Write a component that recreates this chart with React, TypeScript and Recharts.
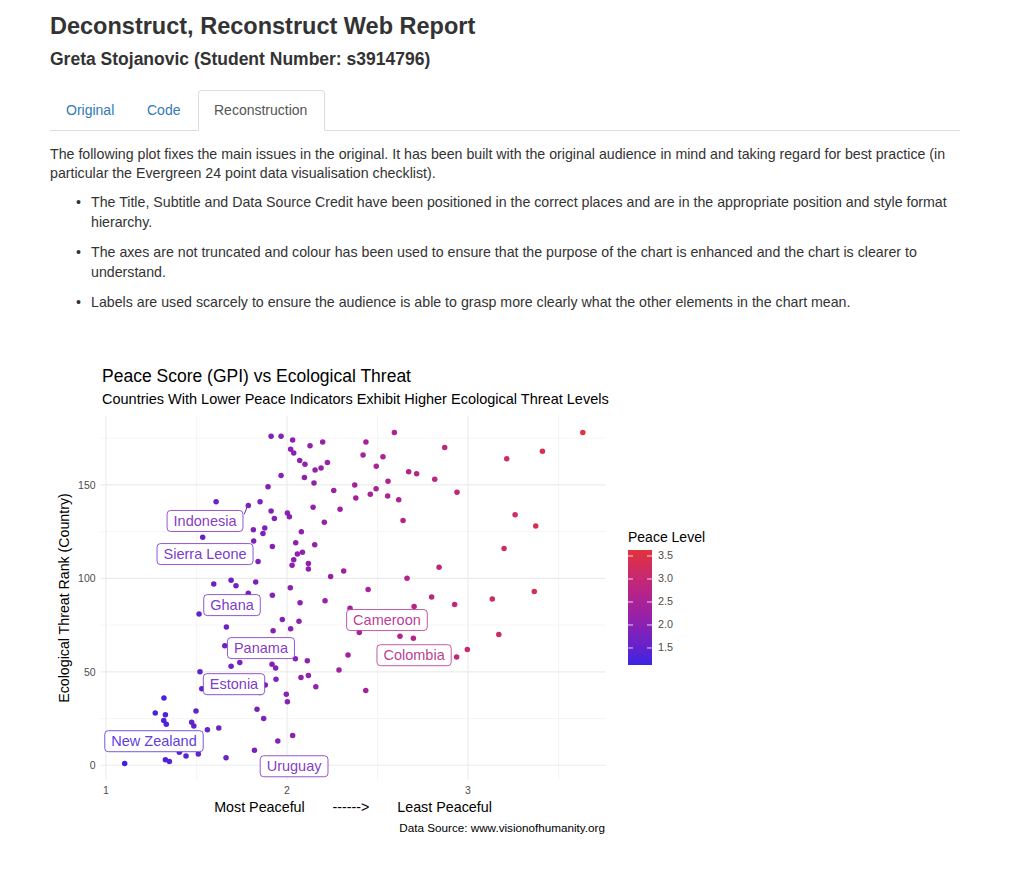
import React from 'react';
import { ScatterChart, Scatter, XAxis, YAxis, ReferenceLine } from 'recharts';

// ---- Data ----
const gpiScores = [
  1.912, 1.608, 1.786, 1.851, 1.912, 1.930, 1.814, 1.877, 1.867, 1.534,
  1.816, 1.919, 1.840, 1.595, 1.691, 1.718, 1.827, 1.786, 1.919, 1.967,
  2.031, 2.020, 2.037, 2.127, 2.197, 2.070, 2.099, 2.155, 2.188, 2.223,
  1.967, 2.096, 2.149, 1.895, 2.258, 2.374, 2.380, 2.460, 2.492, 2.436,
  2.420, 2.530, 2.493, 2.593, 2.672, 2.716, 2.558, 2.556, 2.617, 2.816,
  2.641, 2.002, 2.013, 2.144, 2.293, 2.206, 2.079, 2.048, 2.153, 2.057,
  2.085, 2.037, 2.028, 2.118, 2.118, 2.241, 2.313, 2.663, 2.840, 2.018,
  2.448, 2.799, 2.871, 2.939, 3.214, 3.411, 3.634, 3.260, 3.374, 3.199,
  3.134, 3.366, 2.926, 3.170, 2.996, 2.937, 2.072, 2.210, 2.348, 2.702,
  1.974, 2.066, 1.923, 2.020, 2.399, 2.624, 2.698, 2.337, 2.287, 2.435,
  2.046, 2.112, 1.917, 1.937, 1.939, 2.077, 2.118, 2.159, 1.880, 1.996,
  2.002, 1.871, 2.031, 1.949, 1.514, 1.665, 1.656, 1.691, 1.739, 1.519,
  1.529, 1.851, 1.320, 1.272, 1.328, 1.319, 1.333, 1.497, 1.473, 1.485,
  1.560, 1.623, 1.834, 1.405, 1.442, 1.510, 1.328, 1.350, 1.103, 1.663,
  1.820,
];

const threatRanks = [
  176, 141, 139, 141, 136, 132, 126, 127, 124, 122,
  120, 117, 109, 97, 99, 96, 98, 92, 91, 176,
  174, 169, 167, 171, 173, 163, 161, 158, 159, 162,
  155, 154, 151, 149, 147, 150, 143, 145, 148, 173,
  166, 165, 160, 178, 157, 156, 152, 144, 142, 153,
  131, 135, 133, 138, 137, 130, 125, 119, 118, 113,
  114, 110, 107, 108, 105, 101, 104, 100, 106, 95,
  94, 90, 170, 146, 164, 168, 178, 134, 128, 116,
  89, 93, 86, 70, 62, 58, 87, 88, 84, 85,
  78, 77, 72, 73, 71, 69, 68, 59, 51, 40,
  57, 56, 54, 52, 46, 47, 48, 42, 43, 38,
  34, 25, 16, 13, 81, 74, 64, 53, 55, 50,
  41, 39, 36, 28, 27, 24, 22, 29, 23, 21,
  19, 20, 30, 7, 5, 6, 3, 2, 1, 4,
  8,
];

const labelNames = ['Indonesia', 'Sierra Leone', 'Ghana', 'Panama', 'Estonia', 'New Zealand', 'Uruguay', 'Cameroon', 'Colombia'];
const labelX = [1.547, 1.547, 1.696, 1.856, 1.707, 1.265, 2.039, 2.552, 2.702];
const labelY = [130.7, 113.0, 85.7, 62.7, 43.4, 12.9, -0.5, 77.7, 58.9];
const labelGpi = [1.79, 1.6, 1.62, 1.75, 1.66, 1.3, 1.75, 2.68, 2.72];

const leaderFrom = { x: 1.764, y: 134.3 };
const leaderTo = { x: 1.781, y: 138.6 };
const leaderGpi = 1.79;

const xTicks = [1, 2, 3];
const xMinor = [1.5, 2.5, 3.5];
const yTicks = [0, 50, 100, 150];
const yMinor = [25, 75, 125, 175];
const legendTicks = [1.5, 2.0, 2.5, 3.0, 3.5];
const colorMin = 1.13;
const colorMax = 3.63;

// ---- Styling helpers ----
const colorStops: [number, string][] = [
  [1.13, '#3A23E8'],
  [1.5, '#6222CC'],
  [2.0, '#8A21B2'],
  [2.5, '#AA2296'],
  [3.0, '#C62874'],
  [3.63, '#E0343C'],
];

function hexToRgb(h: string) {
  const n = parseInt(h.slice(1), 16);
  return [(n >> 16) & 255, (n >> 8) & 255, n & 255];
}

function colorFor(v: number) {
  if (v <= colorStops[0][0]) return colorStops[0][1];
  for (let i = 1; i < colorStops.length; i++) {
    const [v1, c1] = colorStops[i];
    const [v0, c0] = colorStops[i - 1];
    if (v <= v1) {
      const t = (v - v0) / (v1 - v0);
      const a = hexToRgb(c0);
      const b = hexToRgb(c1);
      const r = a.map((x, k) => Math.round(x + (b[k] - x) * t));
      return `rgb(${r[0]},${r[1]},${r[2]})`;
    }
  }
  return colorStops[colorStops.length - 1][1];
}

const FONT = '"Liberation Sans", Arial, Helvetica, sans-serif';

let measureCtx: CanvasRenderingContext2D | null = null;
function textWidth(s: string, font: string) {
  if (!measureCtx) measureCtx = document.createElement('canvas').getContext('2d');
  if (!measureCtx) return s.length * 7.5;
  measureCtx.font = font;
  return measureCtx.measureText(s).width;
}

const points = gpiScores.map((g, i) => ({ x: g, y: threatRanks[i] }));
const labels = labelNames.map((n, i) => ({ x: labelX[i], y: labelY[i], name: n, gpi: labelGpi[i] }));

const Dot = (props: any) => {
  const { cx, cy, payload } = props;
  if (cx == null || cy == null) return null;
  return <circle cx={cx} cy={cy} r={2.75} fill={colorFor(payload.x)} />;
};

const LabelBox = (props: any) => {
  const { cx, cy, payload } = props;
  if (cx == null || cy == null) return null;
  const c = colorFor(payload.gpi);
  const fs = 14.5;
  const w = textWidth(payload.name, `${fs}px "Liberation Sans"`) + 13;
  const h = 21;
  return (
    <g>
      <rect x={cx - w / 2} y={cy - h / 2} width={w} height={h} rx={3.5} ry={3.5} fill="#ffffff" stroke={c} strokeOpacity={0.85} strokeWidth={0.9} />
      <text x={cx} y={cy} dy="0.36em" textAnchor="middle" fontSize={fs} fill={c} fillOpacity={0.9} fontFamily={FONT}>
        {payload.name}
      </text>
    </g>
  );
};

const abs = (left: number, top: number, extra: React.CSSProperties = {}): React.CSSProperties => ({
  position: 'absolute',
  left,
  top,
  whiteSpace: 'pre',
  fontFamily: FONT,
  ...extra,
});

const Legend = () => {
  const barTop = 550;
  const barH = 115;
  const barLeft = 628;
  const barW = 24;
  const yOf = (v: number) => barTop + ((colorMax - v) / (colorMax - colorMin)) * barH;
  const stops = colorStops.slice().reverse();
  return (
    <>
      <div style={abs(628, 530, { fontSize: 14, lineHeight: '14px', color: '#000' })}>Peace Level</div>
      <svg style={{ position: 'absolute', left: barLeft, top: barTop }} width={barW} height={barH}>
        <defs>
          <linearGradient id="peaceGrad" x1="0" y1="0" x2="0" y2="1">
            {stops.map(([v, c], i) => (
              <stop key={i} offset={`${((colorMax - v) / (colorMax - colorMin)) * 100}%`} stopColor={c} />
            ))}
          </linearGradient>
        </defs>
        <rect x={0} y={0} width={barW} height={barH} fill="url(#peaceGrad)" />
        {legendTicks.map((t) => (
          <g key={t}>
            <line x1={0} x2={5} y1={yOf(t) - barTop} y2={yOf(t) - barTop} stroke="#ffffff" strokeWidth={1} opacity={0.8} />
            <line x1={barW - 5} x2={barW} y1={yOf(t) - barTop} y2={yOf(t) - barTop} stroke="#ffffff" strokeWidth={1} opacity={0.8} />
          </g>
        ))}
      </svg>
      {legendTicks.map((t) => (
        <div key={t} style={abs(658, yOf(t) - 5.5, { fontSize: 10.8, lineHeight: '11px', color: '#4d4d4d' })}>
          {t.toFixed(1)}
        </div>
      ))}
    </>
  );
};

export default function App() {
  const bodyText: React.CSSProperties = { fontSize: 14.2, lineHeight: '14px', color: '#333' };
  return (
    <div style={{ position: 'absolute', left: 0, top: 0, width: 1024, height: 873, background: '#fff', fontFamily: FONT }}>
      {/* Page header */}
      <div style={abs(50, 15, { fontSize: 23.5, lineHeight: '23.5px', fontWeight: 'bold', color: '#333' })}>
        Deconstruct, Reconstruct Web Report
      </div>
      <div style={abs(50, 51, { fontSize: 17.5, lineHeight: '17.5px', fontWeight: 'bold', color: '#333' })}>
        Greta Stojanovic (Student Number: s3914796)
      </div>

      {/* Tabs */}
      <div style={{ position: 'absolute', left: 50, top: 130, width: 910, height: 1, background: '#dddddd' }} />
      <div
        style={{
          position: 'absolute',
          left: 198,
          top: 90,
          width: 127,
          height: 41,
          border: '1px solid #dddddd',
          borderBottom: '1px solid #ffffff',
          borderRadius: '4px 4px 0 0',
          background: '#fff',
          boxSizing: 'border-box',
        }}
      />
      <div style={abs(66, 103, { ...bodyText, fontSize: 14, color: '#337ab7' })}>Original</div>
      <div style={abs(147, 103, { ...bodyText, fontSize: 14, color: '#337ab7' })}>Code</div>
      <div style={abs(214, 103, { ...bodyText, fontSize: 14, color: '#555' })}>Reconstruction</div>

      {/* Paragraph */}
      <div style={abs(50, 147, bodyText)}>
        The following plot fixes the main issues in the original. It has been built with the original audience in mind and taking regard for best practice (in
      </div>
      <div style={abs(50, 166, bodyText)}>particular the Evergreen 24 point data visualisation checklist).</div>

      {/* Bullets */}
      <div style={abs(76, 195, bodyText)}>•</div>
      <div style={abs(91, 195, bodyText)}>
        The Title, Subtitle and Data Source Credit have been positioned in the correct places and are in the appropriate position and style format
      </div>
      <div style={abs(91, 215, bodyText)}>hierarchy.</div>
      <div style={abs(76, 245, bodyText)}>•</div>
      <div style={abs(91, 245, bodyText)}>
        The axes are not truncated and colour has been used to ensure that the purpose of the chart is enhanced and the chart is clearer to
      </div>
      <div style={abs(91, 265, bodyText)}>understand.</div>
      <div style={abs(76, 295, bodyText)}>•</div>
      <div style={abs(91, 295, bodyText)}>
        Labels are used scarcely to ensure the audience is able to grasp more clearly what the other elements in the chart mean.
      </div>

      {/* Chart */}
      <div style={{ position: 'absolute', left: 40, top: 360, width: 680, height: 480 }}>
        <ScatterChart width={680} height={480} margin={{ top: 56, right: 114.4, bottom: 40, left: 40.6 }}>
          {xMinor.map((v) => (
            <ReferenceLine key={`xm${v}`} x={v} stroke="#f2f2f2" strokeWidth={0.8} />
          ))}
          {yMinor.map((v) => (
            <ReferenceLine key={`ym${v}`} y={v} stroke="#f2f2f2" strokeWidth={0.8} />
          ))}
          {xTicks.map((v) => (
            <ReferenceLine key={`xM${v}`} x={v} stroke="#ebebeb" strokeWidth={1.1} />
          ))}
          {yTicks.map((v) => (
            <ReferenceLine key={`yM${v}`} y={v} stroke="#ebebeb" strokeWidth={1.1} />
          ))}
          <XAxis
            type="number"
            dataKey="x"
            domain={[0.97, 3.76]}
            ticks={xTicks}
            allowDataOverflow
            axisLine={false}
            tickLine={false}
            tickSize={3}
            tickMargin={4}
            height={20}
            tick={{ fontSize: 10.5, fill: '#4d4d4d', fontFamily: FONT }}
          />
          <YAxis
            type="number"
            dataKey="y"
            domain={[-7.85, 186.85]}
            ticks={yTicks}
            allowDataOverflow
            axisLine={false}
            tickLine={false}
            tickSize={3}
            tickMargin={2}
            width={20}
            tick={{ fontSize: 10.5, fill: '#4d4d4d', fontFamily: FONT }}
          />
          <Scatter data={points} shape={Dot} isAnimationActive={false} />
          <ReferenceLine segment={[leaderFrom, leaderTo]} stroke={colorFor(leaderGpi)} strokeWidth={1} />
          <Scatter data={labels} shape={LabelBox} isAnimationActive={false} />
        </ScatterChart>
      </div>

      {/* Chart titles and axis titles */}
      <div style={abs(102, 368, { fontSize: 17.5, lineHeight: '17.5px', color: '#000' })}>Peace Score (GPI) vs Ecological Threat</div>
      <div style={abs(102, 392, { fontSize: 14.5, lineHeight: '14.5px', color: '#000' })}>
        Countries With Lower Peace Indicators Exhibit Higher Ecological Threat Levels
      </div>
      <div
        style={abs(64, 598, {
          fontSize: 14.2,
          lineHeight: '14px',
          color: '#000',
          transform: 'translate(-50%, -50%) rotate(-90deg)',
        })}
      >
        Ecological Threat Rank (Country)
      </div>
      <div
        style={abs(353, 800, {
          fontSize: 14.3,
          lineHeight: '14px',
          color: '#000',
          transform: 'translateX(-50%)',
        })}
      >
        {'Most Peaceful       ------>       Least Peaceful'}
      </div>
      <div style={abs(385, 822, { width: 220, textAlign: 'right', fontSize: 11.7, lineHeight: '12px', color: '#000' })}>
        Data Source: www.visionofhumanity.org
      </div>

      <Legend />
    </div>
  );
}
